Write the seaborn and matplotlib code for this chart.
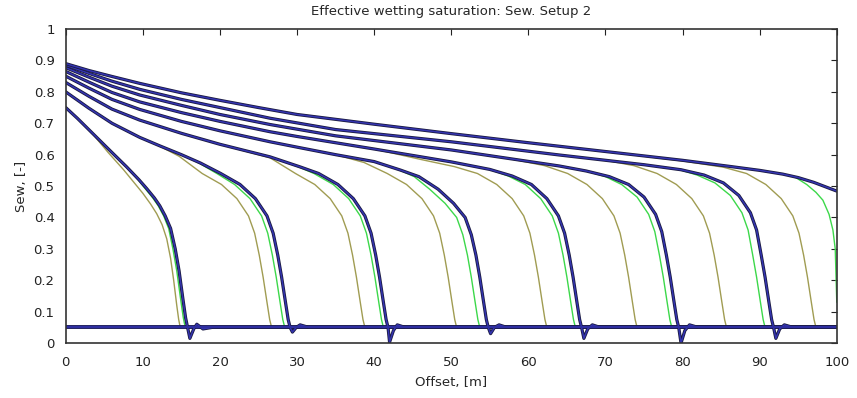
import matplotlib
matplotlib.use("Agg")
import matplotlib.pyplot as plt
import seaborn as sns

# Sew profiles, 8 time steps x 3 runs (blue / green / olive)
b1_x = [0, 1.5, 3.6, 5.7, 7.9, 9.5, 10.5, 11.5, 12.2, 12.9, 13.6, 14.2, 14.7, 15.2, 15.55, 15.8, 16.1, 16.6, 17.0, 17.8, 19, 100]
b1_s = [.75, .716, .665, .614, .561, .52, .492, .462, .437, .405, .365, .30, .23, .14, .08, .05, .015, .045, .06, .045, .05, .05]
g1_x = [0, 1.5, 3.6, 5.7, 7.9, 9.4, 10.3, 11.3, 12.0, 12.7, 13.35, 13.9, 14.4, 14.9, 15.25, 15.5, 100]
g1_s = [.75, .716, .665, .614, .561, .52, .492, .462, .437, .405, .365, .30, .23, .14, .08, .05, .05]
o1_x = [0, 1.5, 3.6, 5.5, 7.5, 9.0, 10.0, 11.0, 11.8, 12.5, 13.1, 13.6, 14.0, 14.4, 14.65, 14.85, 100]
o1_s = [.75, .716, .663, .607, .552, .507, .477, .443, .412, .377, .332, .27, .20, .12, .075, .05, .05]

b2_x = [0, 3, 6, 9.6, 12.2, 15, 17.5, 20.1, 22.6, 24.6, 26.1, 26.9, 27.5, 28.0, 28.5, 28.85, 29.1, 29.4, 29.9, 30.4, 31.5, 100]
b2_s = [.80, .748, .70, .655, .628, .60, .573, .54, .505, .46, .405, .35, .28, .21, .13, .075, .05, .035, .05, .058, .05, .05]
g2_x = [0, 3, 6, 9.6, 12.2, 15, 17.3, 19.6, 21.9, 23.9, 25.4, 26.2, 26.8, 27.3, 27.8, 28.15, 28.4, 100]
g2_s = [.80, .748, .70, .655, .628, .60, .573, .54, .505, .46, .405, .35, .28, .21, .13, .075, .05, .05]
o2_x = [0, 3, 6, 9.6, 12.2, 14.7, 17.7, 20.2, 22.2, 23.7, 24.5, 25.1, 25.6, 26.1, 26.45, 26.7, 100]
o2_s = [.80, .748, .70, .655, .627, .595, .54, .505, .46, .405, .35, .28, .21, .13, .075, .05, .05]

b3_x = [0, 3, 6, 9.6, 15, 20, 26.5, 30.4, 32.8, 35.3, 37.3, 38.8, 39.6, 40.2, 40.7, 41.2, 41.55, 41.8, 42.0, 42.5, 43.0, 44, 100]
b3_s = [.83, .786, .745, .71, .668, .633, .593, .561, .54, .505, .46, .405, .35, .28, .21, .13, .075, .05, .003, .04, .058, .05, .05]
g3_x = [0, 3, 6, 9.6, 15, 20, 26.5, 30.2, 32.2, 34.7, 36.7, 38.2, 39.0, 39.6, 40.1, 40.6, 40.95, 41.2, 100]
g3_s = [.83, .786, .745, .71, .668, .633, .593, .561, .54, .505, .46, .405, .35, .28, .21, .13, .075, .05, .05]
o3_x = [0, 3, 6, 9.6, 15, 20, 26.5, 29.8, 32.3, 34.3, 35.8, 36.6, 37.2, 37.7, 38.2, 38.55, 38.8, 100]
o3_s = [.83, .786, .745, .71, .668, .633, .59, .54, .505, .46, .405, .35, .28, .21, .13, .075, .05, .05]

b4_x = [0, 3, 6, 9.6, 15, 20, 26.5, 30.4, 35, 40, 43.4, 45.8, 48.3, 50.3, 51.8, 52.6, 53.2, 53.7, 54.2, 54.55, 54.8, 55.1, 55.6, 56.2, 57.2, 100]
b4_s = [.85, .812, .776, .744, .706, .676, .641, .622, .60, .578, .551, .53, .49, .445, .40, .345, .28, .21, .13, .075, .05, .03, .05, .058, .05, .05]
g4_x = [0, 3, 6, 9.6, 15, 20, 26.5, 30.4, 35, 40, 43.2, 45.2, 47.2, 49.2, 50.7, 51.5, 52.1, 52.6, 53.1, 53.45, 53.7, 100]
g4_s = [.85, .812, .776, .744, .706, .676, .641, .622, .60, .578, .552, .53, .49, .445, .40, .345, .28, .21, .13, .075, .05, .05]
o4_x = [0, 3, 6, 9.6, 15, 20, 26.5, 30.4, 35, 38.7, 41.7, 44.2, 46.2, 47.7, 48.5, 49.1, 49.6, 50.1, 50.45, 50.7, 100]
o4_s = [.85, .812, .776, .744, .706, .676, .641, .622, .60, .575, .54, .505, .46, .405, .35, .28, .21, .13, .075, .05, .05]

b5_x = [0, 3, 6, 9.6, 15, 20, 26.5, 30, 40, 50, 55, 57.9, 60.4, 62.4, 63.9, 64.7, 65.3, 65.8, 66.3, 66.65, 66.9, 67.2, 67.7, 68.3, 69.3, 100]
b5_s = [.865, .831, .798, .768, .734, .706, .673, .658, .618, .577, .553, .532, .505, .46, .405, .35, .28, .21, .13, .075, .05, .015, .045, .058, .05, .05]
g5_x = [0, 3, 6, 9.6, 15, 20, 26.5, 30, 40, 50, 55, 57.4, 59.6, 61.6, 63.1, 63.9, 64.5, 65.0, 65.5, 65.85, 66.1, 100]
g5_s = [.865, .831, .798, .768, .734, .706, .673, .658, .618, .577, .553, .532, .505, .46, .405, .35, .28, .21, .13, .075, .05, .05]
o5_x = [0, 3, 6, 9.6, 15, 20, 26.5, 30, 40, 46, 50.4, 53.4, 55.9, 57.9, 59.4, 60.2, 60.8, 61.3, 61.8, 62.15, 62.4, 100]
o5_s = [.865, .831, .798, .768, .734, .706, .673, .658, .618, .585, .562, .54, .505, .46, .405, .35, .28, .21, .13, .075, .05, .05]

b6_x = [0, 3, 6, 9.6, 15, 20, 26.5, 35, 50, 64, 67.5, 70.5, 73, 75, 76.5, 77.3, 77.9, 78.4, 78.9, 79.25, 79.5, 79.8, 80.3, 80.9, 82, 100]
b6_s = [.877, .847, .818, .79, .757, .728, .696, .66, .615, .564, .548, .53, .505, .465, .41, .355, .28, .21, .13, .075, .05, .0, .04, .058, .05, .05]
g6_x = [0, 3, 6, 9.6, 15, 20, 26.5, 35, 50, 64, 67.5, 70, 72.1, 74.1, 75.6, 76.4, 77.0, 77.5, 78.0, 78.35, 78.6, 100]
g6_s = [.877, .847, .818, .79, .757, .728, .696, .66, .615, .564, .548, .53, .505, .465, .41, .355, .28, .21, .13, .075, .05, .05]
o6_x = [0, 3, 6, 9.6, 15, 20, 26.5, 35, 50, 57, 62.1, 65.1, 67.6, 69.6, 71.1, 71.9, 72.5, 73.0, 73.5, 73.85, 74.1, 100]
o6_s = [.877, .847, .818, .79, .757, .728, .696, .66, .615, .59, .565, .54, .505, .46, .405, .35, .28, .21, .13, .075, .05, .05]

b7_x = [0, 3, 6, 9.6, 15, 20, 26.5, 35, 50, 64, 75, 79.8, 82.8, 85.3, 87.3, 88.8, 89.6, 90.2, 90.7, 91.2, 91.55, 91.8, 92.1, 92.6, 93.2, 94.3, 100]
b7_s = [.885, .859, .834, .808, .776, .750, .716, .68, .641, .599, .568, .552, .535, .51, .47, .415, .36, .28, .21, .13, .075, .05, .015, .045, .058, .05, .05]
g7_x = [0, 3, 6, 9.6, 15, 20, 26.5, 35, 50, 64, 75, 79.5, 81.9, 84.2, 86.2, 87.7, 88.5, 89.1, 89.6, 90.1, 90.45, 90.7, 100]
g7_s = [.885, .859, .834, .808, .776, .750, .716, .68, .641, .599, .568, .553, .535, .51, .47, .415, .36, .28, .21, .13, .075, .05, .05]
o7_x = [0, 3, 6, 9.6, 15, 20, 26.5, 35, 50, 64, 70, 73.7, 76.7, 79.2, 81.2, 82.7, 83.5, 84.1, 84.6, 85.1, 85.45, 85.7, 100]
o7_s = [.885, .859, .834, .808, .776, .750, .716, .68, .641, .599, .582, .565, .54, .505, .46, .405, .35, .28, .21, .13, .075, .05, .05]

b8_x = [0, 3, 6, 9.6, 15, 20, 25, 30, 40, 50, 60, 70, 80, 86, 90, 93, 95, 97, 98.5, 100]
b8_s = [.89, .868, .849, .827, .797, .773, .75, .728, .697, .667, .638, .61, .582, .563, .55, .538, .527, .512, .498, .484]
g8_x = [0, 3, 6, 9.6, 15, 20, 25, 30, 40, 50, 60, 70, 80, 86, 90, 93, 94.5, 96.1, 97.3, 98.2, 99.0, 99.5, 99.8, 100]
g8_s = [.89, .868, .849, .827, .797, .773, .75, .728, .697, .667, .638, .61, .582, .563, .55, .538, .53, .505, .48, .455, .41, .36, .30, .13]
o8_x = [0, 3, 6, 9.6, 15, 20, 25, 30, 40, 50, 60, 70, 80, 85.3, 88.3, 90.8, 92.8, 94.3, 95.1, 95.7, 96.2, 96.7, 97.05, 97.3, 100]
o8_s = [.89, .868, .849, .827, .797, .773, .75, .728, .697, .667, .638, .61, .58, .56, .54, .505, .46, .405, .35, .28, .21, .13, .075, .05, .05]

# initial state (t = 0)
base_x = [0, 100]
base_s = [.05, .05]

x_ticks = [0, 10, 20, 30, 40, 50, 60, 70, 80, 90, 100]
y_ticks = [0, 0.1, 0.2, 0.3, 0.4, 0.5, 0.6, 0.7, 0.8, 0.9, 1]
y_labels = ['0', '0.1', '0.2', '0.3', '0.4', '0.5', '0.6', '0.7', '0.8', '0.9', '1']

olive_curves = [(o1_x, o1_s), (o2_x, o2_s), (o3_x, o3_s), (o4_x, o4_s),
                (o5_x, o5_s), (o6_x, o6_s), (o7_x, o7_s), (o8_x, o8_s)]
green_curves = [(g1_x, g1_s), (g2_x, g2_s), (g3_x, g3_s), (g4_x, g4_s),
                (g5_x, g5_s), (g6_x, g6_s), (g7_x, g7_s), (g8_x, g8_s)]
blue_curves = [(b1_x, b1_s), (b2_x, b2_s), (b3_x, b3_s), (b4_x, b4_s),
               (b5_x, b5_s), (b6_x, b6_s), (b7_x, b7_s), (b8_x, b8_s)]

sns.set_style('white')
plt.rcParams['font.family'] = ['DejaVu Sans']

fig = plt.figure(figsize=(8.57, 3.98), dpi=100)
ax = fig.add_axes([0.0767, 0.138, 0.8997, 0.789])

for cx, cs in olive_curves:
    sns.lineplot(x=cx, y=cs, ax=ax, color='#a09c52', lw=1.0, sort=False, errorbar=None)
for cx, cs in green_curves:
    sns.lineplot(x=cx, y=cs, ax=ax, color='#3cd84a', lw=1.0, sort=False, errorbar=None)

# thick blue run: dark outline with blue core
sns.lineplot(x=base_x, y=base_s, ax=ax, color='#1c1c55', lw=2.8, sort=False, errorbar=None)
for cx, cs in blue_curves:
    sns.lineplot(x=cx, y=cs, ax=ax, color='#1a1a40', lw=2.3, sort=False, errorbar=None)
    sns.lineplot(x=cx, y=cs, ax=ax, color='#3434b0', lw=1.1, sort=False, errorbar=None)
sns.lineplot(x=base_x, y=base_s, ax=ax, color='#2e2ea0', lw=1.6, sort=False, errorbar=None)

ax.set_xlim(0, 100)
ax.set_ylim(0, 1)
ax.set_xticks(x_ticks)
ax.set_yticks(y_ticks)
ax.set_yticklabels(y_labels)
ax.tick_params(direction='in', top=True, right=True, length=4, width=0.8,
               labelsize=9.5, colors='#222222')
ax.tick_params(axis='x', pad=9)
ax.tick_params(axis='y', pad=8)
for sp in ax.spines.values():
    sp.set_color('#333333')
    sp.set_linewidth(1.2)

ax.set_title('Effective wetting saturation: Sew. Setup 2', fontsize=9.5, pad=10)
ax.set_xlabel('Offset, [m]', fontsize=9.5, labelpad=5)
ax.set_ylabel('Sew, [-]', fontsize=9.5, labelpad=4)

fig.savefig('out.png', dpi=100)
